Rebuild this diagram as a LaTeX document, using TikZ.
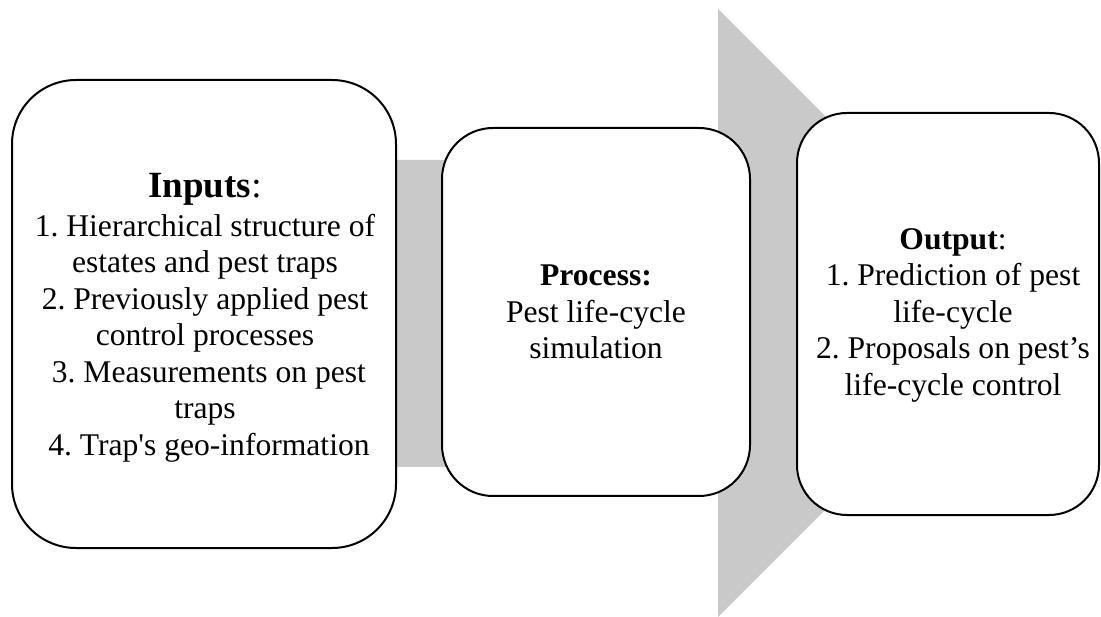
\documentclass[tikz,border=0pt]{standalone}
\usepackage{fontspec}
\setmainfont{Liberation Serif}
\frenchspacing
\definecolor{arrowgray}{RGB}{201,201,201}
\begin{document}
\begin{tikzpicture}[x=1pt,y=-1pt,
  box/.style={draw=black, line width=2pt, fill=white, inner sep=0pt},
  txt/.style={align=center, inner sep=0pt, font=\frenchspacing\fontsize{31.6}{36.5}\selectfont},
  bigarrow/.style={fill=arrowgray, draw=none}]
\useasboundingbox (0,0) rectangle (1101,617);
% big background arrow
\fill[bigarrow] (300,160) -- (718,160) -- (718,9) -- (1022,313) -- (718,617) -- (718,467) -- (300,467) -- cycle;
% boxes
\node[box, rounded corners=64pt, minimum width=384pt, minimum height=468pt] (inbox) at (204,314) {};
\node[box, rounded corners=51pt, minimum width=308pt, minimum height=368pt] (procbox) at (596,312) {};
\node[box, rounded corners=50pt, minimum width=302pt, minimum height=402pt] (outbox) at (948,314) {};
% texts
\node[txt] (intext) at (205,318) {{\fontsize{37}{40}\selectfont\textbf{Inputs}:}\\[2pt]
  1. Hierarchical structure of\\
  estates and pest traps\\
  2. Previously applied pest\\
  control processes\\
  \hspace*{0.25em}3. Measurements on pest\\
  traps\\
  \hspace*{0.25em}4. Trap\textquotesingle s geo-information};
\node[txt] (proctext) at (596,312) {\textbf{Process:}\\
  Pest life-cycle\\
  simulation};
\node[txt] (outtext) at (953,315) {\textbf{Output}:\\
  1. Prediction of pest\\
  life-cycle\\
  2. Proposals on pest’s\\
  life-cycle control};
\end{tikzpicture}
\end{document}
